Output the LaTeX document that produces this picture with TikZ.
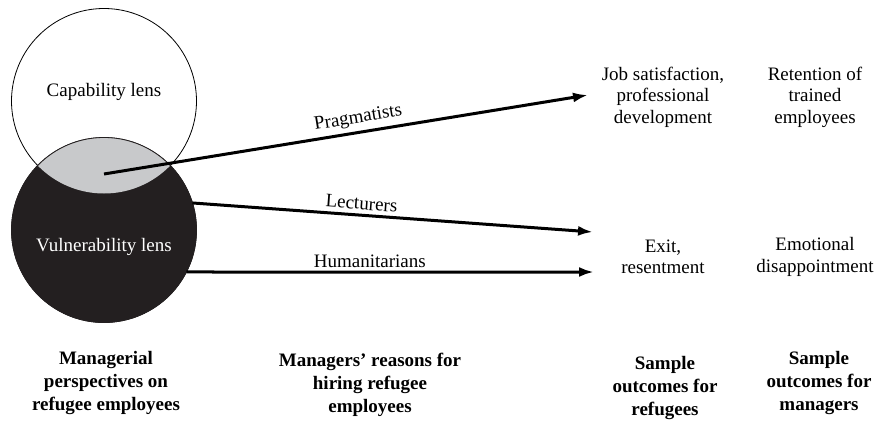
\documentclass[tikz,border=0pt]{standalone}
\usepackage{fontspec}
\setmainfont{Liberation Serif}
\usetikzlibrary{arrows.meta}

\definecolor{lensdark}{HTML}{231F20}
\definecolor{lensgrey}{HTML}{C8C9CB}

\begin{document}
\begin{tikzpicture}[
  x=1pt, y=1pt,
  font=\fontsize{19}{21.5}\selectfont,
  lens/.style={circle, minimum size=185pt, inner sep=0pt, outer sep=0pt},
  reason/.style={line width=3pt, -{Latex[length=15pt,width=10pt]}},
  txt/.style={align=center, inner sep=0pt},
  head/.style={align=center, inner sep=0pt, font=\fontsize{19}{23}\selectfont\bfseries},
]

\useasboundingbox (0,0) rectangle (878,-421);

\node [lens, draw=black, line width=0.8pt] (cap) at (104,-101) {};
\node [lens, fill=lensdark, draw=lensdark, line width=0.8pt] (vul) at (104,-230) {};
\begin{scope}
  \clip (104,-230) circle [radius=92.5];
  \fill [lensgrey] (104,-101) circle [radius=92.5];
\end{scope}
\draw [lensdark, line width=0.8pt] (104,-230) circle [radius=92.5];

\node [txt] (caplabel) at (104,-92) {Capability lens};
\node [txt, text=white] (vullabel) at (104,-247) {Vulnerability lens};

\coordinate (overlap) at (104,-174);
\coordinate (toJob) at (588,-95);
\coordinate (toExitA) at (593,-232);
\coordinate (toExitB) at (594,-272);

\draw [reason] (overlap) -- (toJob)
  node [pos=0.53, above=4pt, sloped, inner sep=0pt] (prag) {Pragmatists};
\draw [reason] (vul.17) -- (toExitA)
  node [pos=0.42, above=4pt, sloped, inner sep=0pt] (lect) {Lecturers};
\draw [reason] (vul.-27) -- (toExitB)
  node [pos=0.45, above=3pt, sloped, inner sep=0pt] (hum) {Humanitarians};

\node [txt] (jobsat) at (663,-97) {Job satisfaction,\\professional\\development};
\node [txt] (retention) at (815,-97) {Retention of\\trained\\employees};
\node [txt] (exitres) at (663,-257) {Exit,\\resentment};
\node [txt] (emodis) at (815,-257) {Emotional\\disappointment};

\node [head] (persp) at (106,-383) {Managerial\\perspectives on\\refugee employees};
\node [head] (reasons) at (370,-385) {Managers’ reasons for\\hiring refugee\\employees};
\node [head] (outref) at (665,-388) {Sample\\outcomes for\\refugees};
\node [head] (outman) at (819,-383) {Sample\\outcomes for\\managers};

\end{tikzpicture}
\end{document}
